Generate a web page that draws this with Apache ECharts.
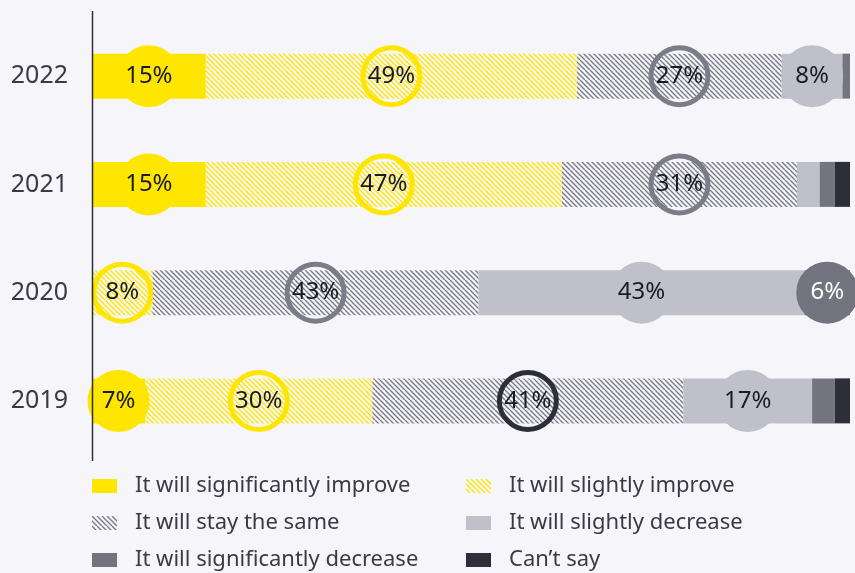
<!DOCTYPE html>
<html>
<head>
<meta charset="utf-8">
<script src="https://cdn.jsdelivr.net/npm/echarts@6/dist/echarts.min.js"></script>
<style>
  html, body { margin: 0; padding: 0; background: #f6f6fa; }
  #chart { width: 855px; height: 573px; }
</style>
</head>
<body>
<div id="chart"></div>
<script>
const years = ['2022', '2021', '2020', '2019']
const seriesNames = [
    'It will significantly improve',
    'It will slightly improve',
    'It will stay the same',
    'It will slightly decrease',
    'It will significantly decrease',
    'Can\u2019t say',
]
const sigImprove = [15, 15, 0, 7]
const slightImprove = [49, 47, 8, 30]
const staySame = [27, 31, 43, 41]
const slightDecrease = [8, 3, 43, 17]
const sigDecrease = [1, 2, 6, 3]
const cantSay = [0, 2, 0, 2]
const values = [sigImprove, slightImprove, staySame, slightDecrease, sigDecrease, cantSay]

const YELLOW = '#ffe600'
const LIGHT = '#c0c0cb'
const MID = '#747480'
const DARK = '#2e2e38'
const FONT = 'Noto Sans'

// diagonal hatch fill
const hatch = (color) => {
    const s = 10
    const c = document.createElement('canvas')
    c.width = s
    c.height = s
    const ctx = c.getContext('2d')
    ctx.strokeStyle = color
    ctx.lineWidth = 1.4
    ctx.beginPath()
    for (let o = -s; o <= s; o += 5) {
        ctx.moveTo(o, 0)
        ctx.lineTo(o + s, s)
    }
    ctx.stroke()
    return { image: c, repeat: 'repeat' }
}

const styles = [
    { color: YELLOW, circle: YELLOW, ring: YELLOW, text: '#1a1a24' },
    { color: hatch(YELLOW), circle: 'transparent', ring: YELLOW, text: '#1a1a24' },
    { color: hatch('#7c7c88'), circle: 'transparent', ring: '#7c7c88', text: '#1a1a24' },
    { color: LIGHT, circle: LIGHT, ring: LIGHT, text: '#1a1a24' },
    { color: MID, circle: MID, ring: MID, text: '#ffffff' },
    { color: DARK, circle: DARK, ring: DARK, text: '#ffffff' },
]

const chart = echarts.init(document.getElementById('chart'))

const series = values.map((arr, si) => ({
    name: seriesNames[si],
    type: 'bar',
    stack: 'total',
    barWidth: 45,
    itemStyle: { color: styles[si].color },
    emphasis: { disabled: true },
    label: {
        show: true,
        position: 'inside',
        formatter: '{c}%',
        width: 57,
        height: 57,
        lineHeight: 57,
        align: 'center',
        verticalAlign: 'middle',
        borderRadius: 31,
        backgroundColor: styles[si].circle,
        borderColor: styles[si].ring,
        borderWidth: 2.5,
        fontFamily: FONT,
        fontSize: 24,
        color: styles[si].text,
    },
    data: arr.map((v, i) => {
        const item = { value: v, label: { show: v >= 5 } }
        // 2019 "stay the same" ring is drawn darker
        if (si === 2 && years[i] === '2019') item.label.borderColor = DARK
        return item
    }),
}))

const legendBase = {
    orient: 'vertical',
    top: 475,
    height: 110,
    padding: 0,
    icon: 'rect',
    itemWidth: 25,
    itemHeight: 14,
    itemGap: 15,
    selectedMode: false,
    textStyle: {
        fontFamily: FONT,
        fontSize: 22,
        lineHeight: 22,
        color: '#3a3a45',
        padding: [0, 0, 0, 13],
    },
}

chart.setOption({
    backgroundColor: '#f6f6fa',
    animation: false,
    grid: { left: 92, right: 5, top: 22, height: 433 },
    xAxis: { type: 'value', min: 0, max: 100, show: false },
    yAxis: {
        type: 'category',
        data: years,
        inverse: true,
        axisLine: { show: false },
        axisTick: { show: false },
        axisLabel: { margin: 24, fontFamily: FONT, fontSize: 25, color: '#3a3a45' },
    },
    legend: [
        Object.assign({}, legendBase, { left: 92, data: [seriesNames[0], seriesNames[2], seriesNames[4]] }),
        Object.assign({}, legendBase, { left: 466, data: [seriesNames[1], seriesNames[3], seriesNames[5]] }),
    ],
    graphic: [
        {
            type: 'line',
            z: 100,
            shape: { x1: 92.5, y1: 11, x2: 92.5, y2: 461 },
            style: { stroke: DARK, lineWidth: 1.5 },
        },
    ],
    series: series,
})
</script>
</body>
</html>
